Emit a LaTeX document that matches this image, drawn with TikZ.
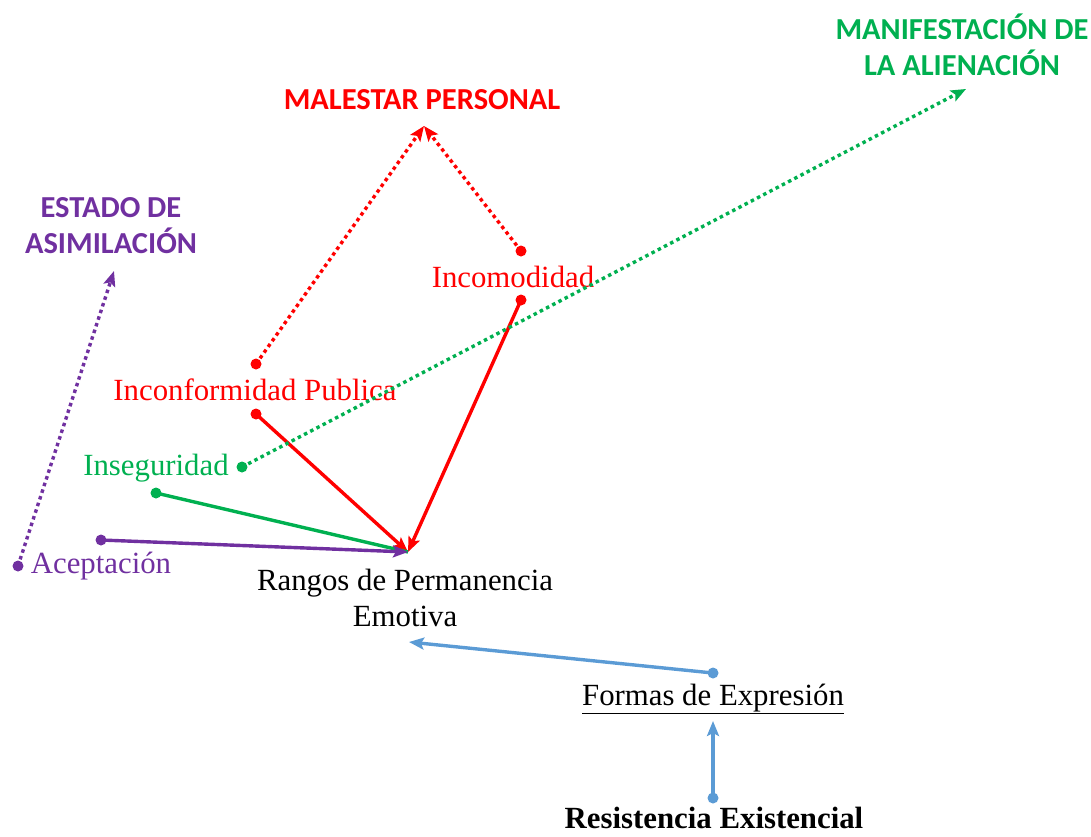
\documentclass[tikz,border=0pt]{standalone}
\usepackage{fontspec}
\setmainfont{Liberation Serif}
\newfontfamily\titlefont{Carlito}
\usetikzlibrary{arrows.meta}
\definecolor{cred}{RGB}{255,0,0}
\definecolor{cgreen}{RGB}{0,176,80}
\definecolor{cpurple}{RGB}{112,48,160}
\definecolor{cblue}{RGB}{91,155,213}
\tikzset{
  lbl/.style={inner sep=0pt, font=\fontsize{30.8}{36}\selectfont, align=center},
  ttl/.style={inner sep=0pt, font=\titlefont\bfseries\fontsize{30.5}{36}\selectfont, align=center},
  conn/.style={line width=3.4pt, -{Stealth[length=15pt,width=12pt,inset=3pt]}},
  plain/.style={line width=3.4pt},
  dots/.style={dash pattern=on 3.5pt off 3.5pt},
  dotmark/.style={circle, fill, inner sep=0pt, minimum size=11pt}
}
\begin{document}
\begin{tikzpicture}[x=1pt,y=-1pt]
\useasboundingbox (0,0) rectangle (1091,836);
% titles
\node[ttl, text=cgreen] (manif) at (962,45) {MANIFESTACIÓN DE\\LA ALIENACIÓN};
\node[ttl, text=cred] (malestar) at (422,100) {MALESTAR PERSONAL};
\node[ttl, text=cpurple] (estado) at (111,226) {ESTADO DE\\ASIMILACIÓN};
% labels
\node[lbl, text=cred] (incom) at (513,277) {Incomodidad};
\node[lbl, text=cred] (inconf) at (255,390) {Inconformidad Publica};
\node[lbl, text=cgreen] (inseg) at (156,468) {Inseguridad};
\node[lbl, text=cpurple] (acept) at (101,566) {Aceptación};
\node[lbl] (rangos) at (405,598) {Rangos de Permanencia\\Emotiva};
\node[lbl] (formas) at (713,699) {\underline{Formas de Expresión}};
\node[lbl] (resist) at (714,818) {\bfseries Resistencia Existencial};
% start dots
\node[dotmark, cred] (pA) at (256,364) {};
\node[dotmark, cred] (pB) at (521,251) {};
\node[dotmark, cred] (pC) at (256,414) {};
\node[dotmark, cred] (pD) at (521,300) {};
\node[dotmark, cgreen] (pE) at (156,493) {};
\node[dotmark, cpurple] (pF) at (101,540) {};
\node[dotmark, cgreen] (pG) at (242,467) {};
\node[dotmark, cpurple] (pH) at (18,566) {};
\node[dotmark, cblue] (pI) at (713,673) {};
\node[dotmark, cblue] (pJ) at (713,798) {};
% arrow end points
\coordinate (top) at (424,126);
\coordinate (hub) at (408,552);
\coordinate (manTip) at (966,89);
\coordinate (estTip) at (114,271);
\coordinate (rangTip) at (409,642);
\coordinate (formTip) at (713,721);
% connectors
\draw[conn, dots, cred] (pA.center) -- (top);
\draw[conn, dots, cred] (pB.center) -- (top);
\draw[conn, cred] (pC.center) -- (hub);
\draw[conn, cred] (pD.center) -- (hub);
\draw[plain, cgreen] (pE.center) -- (hub);
\draw[conn, cpurple] (pF.center) -- (hub);
\draw[conn, dots, cgreen] (pG.center) -- (manTip);
\draw[conn, dots, cpurple] (pH.center) -- (estTip);
\draw[conn, cblue] (pI.center) -- (rangTip);
\draw[conn, cblue] (pJ.center) -- (formTip);
\end{tikzpicture}
\end{document}
